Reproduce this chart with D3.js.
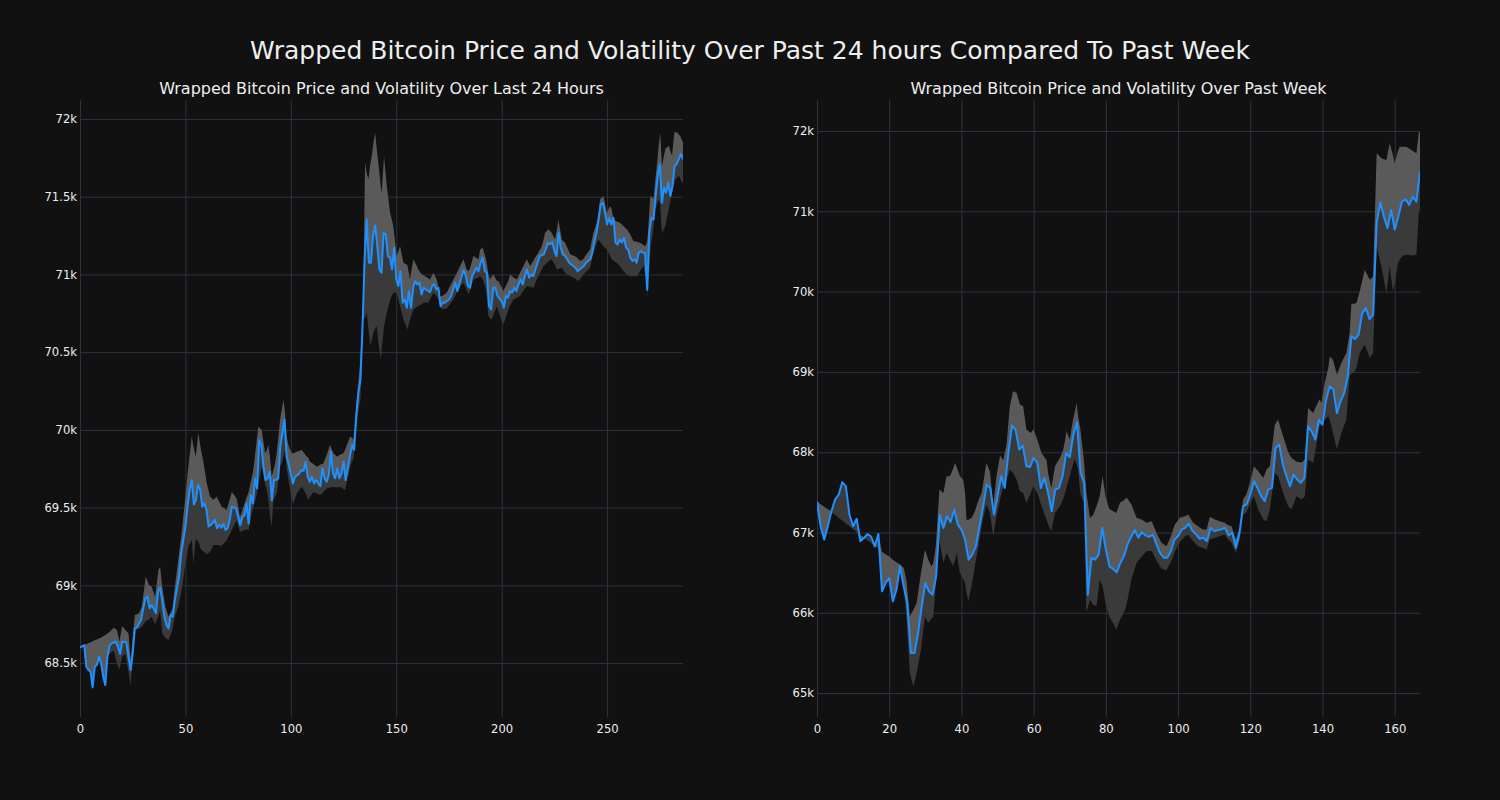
<!DOCTYPE html>
<html><head><meta charset="utf-8">
<script src="https://cdn.jsdelivr.net/npm/d3@7"></script>
<style>html,body{margin:0;padding:0;background:#111111;} svg{display:block;}</style>
</head><body><svg id="chart" width="1500" height="800"></svg>
<script>
const mainTitle = "Wrapped Bitcoin Price and Volatility Over Past 24 hours Compared To Past Week";
const dayTitle = "Wrapped Bitcoin Price and Volatility Over Last 24 Hours";
const weekTitle = "Wrapped Bitcoin Price and Volatility Over Past Week";

// Last 24 hours: [index, price]
const dayPrice = [[0,68600],[1,68608],[2,68615],[3,68476],[4,68455],[5,68444],[6,68343],[7,68476],[8,68487],[9,68540],[10,68498],[11,68412],[12,68358],[13,68540],[14,68610],[15,68627],[17,68637],[18,68605],[19,68558],[20,68637],[22,68633],[23,68540],[24,68455],[25,68560],[26,68723],[27,68730],[28,68755],[29,68777],[30,68852],[31,68916],[32,68927],[33,68852],[34,68873],[35,68850],[36,68820],[37,68960],[38,68987],[39,68900],[40,68800],[41,68745],[42,68723],[43,68809],[44,68798],[45,68905],[47,69056],[48,69206],[50,69378],[51,69506],[52,69614],[53,69678],[54,69520],[55,69549],[56,69646],[57,69614],[58,69506],[59,69528],[60,69485],[61,69378],[62,69388],[64,69421],[65,69367],[66,69390],[67,69370],[68,69395],[69,69356],[70,69367],[71,69420],[72,69506],[73,69500],[74,69494],[76,69386],[77,69440],[78,69450],[79,69526],[80,69397],[81,69580],[82,69526],[83,69688],[84,69623],[85,69935],[86,69903],[87,69763],[88,69677],[89,69688],[90,69731],[91,69547],[92,69677],[93,69677],[94,69688],[95,69892],[97,70065],[98,69828],[99,69774],[101,69655],[102,69698],[103,69709],[104,69720],[105,69741],[106,69736],[107,69795],[108,69698],[109,69666],[110,69698],[111,69655],[112,69677],[113,69655],[114,69638],[115,69752],[116,69688],[117,69666],[118,69709],[119,69860],[120,69720],[121,69688],[122,69752],[123,69688],[124,69720],[125,69795],[126,69677],[127,69752],[128,69828],[129,69903],[130,69871],[131,70086],[132,70237],[133,70324],[134,70667],[135,71097],[136,71354],[137,71075],[138,71075],[139,71247],[140,71315],[141,71182],[142,71032],[143,71011],[144,71268],[145,71257],[146,71118],[147,71108],[148,71032],[149,71172],[150,70968],[151,70925],[152,71021],[153,70818],[154,70839],[155,70785],[156,70893],[157,70785],[158,70914],[159,70957],[160,70936],[161,70946],[162,70871],[163,70914],[164,70903],[166,70886],[167,70925],[168,70936],[169,70903],[170,70914],[171,70796],[172,70818],[173,70818],[175,70839],[176,70861],[177,70903],[178,70946],[179,70893],[181,70989],[182,71028],[183,70989],[184,70925],[185,70914],[186,70989],[188,71043],[189,71021],[190,71075],[191,71107],[192,71021],[193,71011],[194,70796],[195,70775],[196,70914],[197,70914],[198,70861],[200,70828],[201,70786],[202,70861],[203,70850],[204,70893],[205,70883],[206,70914],[207,70893],[208,70936],[209,70968],[210,70936],[211,70989],[212,71032],[213,70978],[214,71000],[215,70989],[216,71032],[217,71075],[218,71118],[220,71129],[221,71165],[222,71204],[223,71193],[224,71208],[225,71150],[226,71118],[227,71268],[228,71172],[229,71129],[230,71120],[231,71097],[232,71075],[233,71064],[234,71054],[235,71043],[236,71021],[237,71032],[239,71054],[240,71075],[242,71097],[243,71140],[244,71215],[245,71268],[246,71354],[247,71450],[248,71461],[249,71397],[250,71322],[251,71365],[252,71322],[253,71365],[254,71204],[255,71193],[256,71225],[257,71204],[258,71236],[259,71172],[260,71160],[261,71107],[262,71086],[263,71097],[264,71075],[265,71140],[266,71150],[267,71140],[268,71138],[269,70901],[270,71267],[271,71364],[272,71353],[273,71504],[274,71634],[275,71709],[276,71461],[277,71558],[278,71526],[279,71590],[280,71504],[281,71569],[282,71698],[283,71709],[284,71741],[285,71774],[286,71740]];

// Last 24 hours volatility band: [index, upper, lower]
const dayBand = [[0,68605,68600],[1,68610,68608],[2,68616,68615],[3,68622,68476],[4,68628,68455],[5,68634,68444],[6,68640,68343],[7,68646,68476],[8,68652,68487],[9,68658,68540],[10,68665,68498],[11,68672,68412],[12,68680,68358],[13,68690,68540],[14,68700,68560],[16,68727,68580],[17.5,68712,68498],[18.7,68637,68459],[20,68738,68540],[21.5,68712,68560],[23,68690,68444],[24,68519,68358],[26,68809,68712],[28,68820,68720],[29.3,68863,68734],[31.2,69056,68770],[32.7,69002,68780],[34,68991,68798],[35.6,68927,68750],[37.2,69099,68800],[38,69120,68840],[39,68991,68691],[40.5,68863,68659],[42,68798,68648],[43.8,68850,68712],[45,68991,68798],[46.6,69163,68862],[48.2,69335,68970],[49.8,69549,69120],[51.4,69764,69249],[53,69957,69292],[53.8,69893,69142],[54.9,69828,69300],[56.1,69979,69280],[57.4,69871,69230],[58.5,69796,69220],[60.1,69657,69200],[61.7,69571,69215],[63.3,69549,69260],[64.8,69571,69260],[67.2,69506,69255],[69.6,69485,69290],[72,69600,69356],[74.3,69558,69418],[75.9,69440,69343],[79.1,69569,69360],[80,69600,69354],[81.4,69690,69461],[82.2,69741,69500],[83.8,69930,69580],[84.6,70022,69650],[86.2,70000,69763],[87.8,69849,69650],[88.6,69870,69612],[89.3,69903,69560],[90.1,69828,69450],[90.9,69698,69375],[91.7,69740,69547],[92.5,69784,69570],[93.3,69850,69590],[94.9,70065,69760],[95.7,70130,69785],[96.5,70194,69830],[97.3,70100,69871],[98,69957,69750],[98.9,69900,69677],[100.4,69849,69560],[101.2,69850,69526],[102.8,69860,69590],[105.2,69871,69634],[107.5,69828,69580],[108.3,69820,69547],[109.1,69795,69570],[110.7,69780,69601],[112.3,69763,69590],[113.9,69775,69580],[115.4,69784,69600],[117,69840,69623],[118.6,69903,69630],[120.2,69850,69634],[121.8,69828,69630],[123.4,69840,69634],[124.9,69849,69620],[125.7,69870,69612],[128.1,69957,69760],[128.9,69950,69795],[129.7,69935,69810],[131,70150,70000],[132,70300,70120],[133,70450,70200],[134.4,70900,70710],[135.2,71719,70720],[136,71650,70753],[136.8,71612,70650],[137.6,71700,70539],[138.4,71762,70580],[139.2,71850,70624],[140,71912,70650],[140.8,71800,70667],[141.5,71719,70560],[142.7,71560,70453],[143.1,71526,70520],[144.2,71762,70667],[145.5,71569,70753],[147.1,71397,70839],[148.6,71311,70882],[150.2,71118,70882],[151.8,71182,70796],[153.4,71075,70710],[155.3,71060,70646],[156.5,70968,70710],[158.1,71097,70775],[159.7,71054,70790],[160.5,71030,70796],[162.1,71000,70810],[162.9,70995,70818],[165.2,70975,70820],[166,70968,70840],[167.6,71011,70882],[169.2,70968,70860],[170,70920,70839],[170.8,70860,70800],[171.6,70860,70775],[173.9,70882,70780],[177.1,70968,70839],[179.5,71030,70903],[180.3,71054,70920],[181.9,71097,70946],[183.4,71032,70900],[184.3,71020,70871],[185,71040,70900],[186.6,71118,70968],[189,71097,70980],[189.8,71161,70989],[191,71172,70970],[192.1,71120,70925],[192.9,71075,70860],[193.7,71000,70732],[194.5,70968,70720],[195.3,70990,70710],[196.1,71000,70740],[197.7,70960,70796],[198.5,70957,70760],[200.8,70893,70678],[203.2,70960,70775],[204,71000,70800],[205.6,70980,70839],[207.2,70968,70850],[208.7,71010,70861],[209.5,71032,70880],[211.9,71097,70925],[213.5,71054,70920],[215.1,71090,70914],[215.8,71107,70940],[217.4,71139,70989],[219,71182,71030],[219.8,71220,71054],[220.6,71268,71060],[221.4,71280,71075],[222.2,71290,71085],[223.7,71268,71097],[225.3,71225,71060],[226.1,71280,71032],[226.9,71354,71035],[228.5,71225,71043],[230.1,71204,71010],[230.9,71180,71000],[232.5,71129,70990],[234.1,71120,70979],[234.7,71118,70975],[236.4,71100,70957],[237.2,71086,70970],[238.8,71100,71000],[239.6,71118,71010],[241.9,71161,71043],[243.5,71268,71139],[245.1,71332,71200],[245.9,71400,71225],[246.7,71483,71210],[248.3,71504,71182],[249.9,71397,71161],[251.4,71440,71120],[252.2,71420,71097],[253,71354,71090],[254.6,71340,71075],[256.2,71332,71050],[257.8,71310,71021],[259.3,71290,71000],[260.9,71260,70989],[262.5,71214,70989],[264.1,71210,70989],[265.6,71204,71020],[267.3,71190,71054],[268,71182,71000],[268.8,71200,70950],[269.3,71250,70858],[270.4,71483,71116],[270.7,71504,71180],[271.2,71500,71224],[272,71483,71300],[272.8,71600,71418],[273.9,71741,71460],[274.4,71820,71483],[275.2,71914,71450],[276,71698,71267],[277.6,71806,71310],[279.2,71828,71418],[280.8,71763,71526],[281.9,71914,71580],[282.4,71914,71612],[283.1,71914,71620],[284,71900,71634],[284.6,71892,71620],[285.6,71860,71590],[286,71849,71590]];

// Past week: hourly price, index = hour 0..167
const weekPrice = [67388,67077,66911,67077,67264,67409,67471,67625,67575,67220,
67077,67172,66890,66931,66981,66950,66827,66981,66267,66370,
66433,66142,66287,66578,66329,66121,65498,65498,65747,66080,
66370,66267,66225,66454,67222,67056,67201,67131,67284,67097,
67035,66911,66661,66724,66827,67077,67326,67596,67554,67222,
67451,67700,67554,67991,68331,68281,68032,68082,67824,67816,
67928,67866,67554,67679,67492,67264,67534,67554,67700,67991,
67937,68219,68373,67741,67617,66225,66682,66661,66724,67056,
66786,66578,66545,66503,66620,66706,66851,66946,67029,66934,
67004,66963,66946,66975,66851,66747,66685,66685,66768,66913,
66954,67037,67058,67112,67017,66975,66921,66934,66892,67058,
67017,67029,67040,67058,66963,66996,66810,66996,67328,67348,
67473,67638,67555,67452,67390,67535,67555,68053,68094,67846,
67701,67576,67721,67659,67618,67680,68323,68260,68157,68405,
68343,68654,68820,68779,68488,68634,68737,68944,69442,69409,
69463,69732,69794,69658,69711,70852,71109,70934,70789,71017,
70769,70934,71121,71150,71080,71183,71121,71494];

// Past week volatility band: [hour, upper, lower]
const weekBand = [[0,67388,67388],[1,67350,67077],[2,67320,66911],[3,67290,67077],[4,67264,67250],[5,67409,67220],[6,67471,67180],[7,67625,67150],[8,67575,67110],[9,67220,67080],[10,67077,67040],[11,67172,67010],[12,66970,66890],[13,66940,66931],[14,66981,66900],[15,66950,66870],[16,66830,66827],[17,66981,66800],[18,66760,66267],[19,66730,66370],[20,66700,66433],[21,66660,66142],[22,66630,66287],[23,66600,66578],[24,66558,66329],[24.8,66400,65914],[25.7,65955,65249],[26.7,66038,65083],[27.6,66121,65249],[28.8,66500,65540],[29.9,66786,65955],[30.8,66661,65872],[31.7,66578,65930],[32.2,66620,65955],[32.9,66827,66329],[33.9,67534,66900],[35,67492,66620],[35.9,67700,66744],[36.8,67700,66661],[37.3,67750,66620],[37.7,67800,66578],[38.2,67866,66650],[38.7,67820,66744],[39.1,67762,66620],[39.6,67700,66495],[40.5,67658,66420],[41,67500,66370],[41.4,67160,66250],[41.9,67160,66142],[42.8,67180,66329],[43.7,67260,66578],[44.7,67400,66827],[45.6,67492,67077],[46.9,67866,67347],[47.9,67760,67243],[48.8,67326,66952],[49.7,67700,67201],[50.7,67960,67409],[51.6,67900,67575],[52.5,68100,67658],[53.4,68572,67783],[54.3,68760,67741],[55.3,68738,67658],[56.2,68593,67513],[57.1,68572,67492],[58,68281,67367],[59.2,68240,67492],[59.9,68281,67575],[61,68157,67492],[62.2,67991,67326],[63.6,67900,67160],[64,67741,67100],[64.9,67554,67014],[65.9,67824,67243],[67.3,67930,67326],[68.2,68032,67420],[68.7,68150,67492],[69.1,68260,67560],[70,68157,67700],[70.9,68406,67850],[71.4,68500,67908],[71.9,68614,67850],[72.3,68450,67783],[72.9,68300,67492],[73.9,67908,67367],[74.6,67500,65997],[75.6,67181,66163],[76.5,67222,66100],[77.4,67326,66080],[78.3,67451,66412],[79.1,67700,66329],[79.9,67450,66121],[80.9,67300,65955],[82,67264,65872],[82.9,67243,65789],[83.9,67369,65914],[85,67400,66000],[85.7,67431,66100],[86,67420,66160],[87.1,67348,66420],[88.5,67182,66620],[89.9,67161,66700],[91.3,67120,66770],[92.7,67141,66770],[94,66996,66650],[95.4,66871,66550],[96.8,66830,66530],[98.2,66975,66650],[99.1,67099,66760],[100.5,67182,66880],[101.9,67203,66950],[102.8,67224,66975],[104.2,67120,66892],[105.5,67079,66830],[106.9,67037,66809],[107.9,67037,66789],[108.8,67195,66913],[110.2,67162,66934],[111.5,67141,66954],[112.9,67120,66975],[113.9,67090,66913],[114.8,67079,66871],[116,66913,66747],[117.1,67058,66913],[118,67410,67224],[118.9,67473,67250],[119.9,67617,67350],[121,67825,67452],[122.2,67763,67286],[123.6,67680,67162],[124.5,67783,67141],[125.4,67825,67286],[126.8,68343,67742],[127.7,68405,67701],[129.1,68198,67493],[130.5,68000,67327],[131.4,67930,67286],[132.8,67880,67452],[134.2,67870,67410],[135.1,67908,67452],[136,68550,67908],[137.4,68488,67866],[138.1,68560,68032],[139.2,68660,68322],[139.7,68613,68350],[140.6,68862,68405],[141.6,69050,68447],[142,69193,68400],[142.9,69152,68240],[144,68965,68032],[145.2,69110,68240],[146.6,69235,68405],[147.5,69483,68944],[148,69848,68980],[148.9,69850,69006],[149.4,69857,69050],[150.3,70002,69235],[151.7,70271,69338],[153.1,70147,69172],[154,70188,69235],[155,71722,70561],[156.3,71660,70313],[157.7,71639,69981],[158.6,71847,70313],[159.5,71700,70002],[160,71598,70100],[160.9,71750,70354],[161.4,71805,70400],[162.3,71805,70450],[163.2,71805,70460],[164.6,71764,70450],[166,71722,70460],[166.7,71992,71017],[167,71992,71017]];

const dayXTicks = [0, 50, 100, 150, 200, 250];
const dayYTicks = [68500, 69000, 69500, 70000, 70500, 71000, 71500, 72000];
const dayYLabels = ["68.5k", "69k", "69.5k", "70k", "70.5k", "71k", "71.5k", "72k"];
const weekXTicks = [0, 20, 40, 60, 80, 100, 120, 140, 160];
const weekYTicks = [65000, 66000, 67000, 68000, 69000, 70000, 71000, 72000];
const weekYLabels = ["65k", "66k", "67k", "68k", "69k", "70k", "71k", "72k"];

const FONT = "DejaVu Sans, sans-serif";
const TEXT = "#eeeeee";
const GRID = "#2a3441";
const svg = d3.select("#chart");
svg.append("rect").attr("width", 1500).attr("height", 800).attr("fill", "#111111");
const defs = svg.append("defs");

svg.append("text").attr("x", 750).attr("y", 59).attr("text-anchor", "middle")
  .attr("fill", TEXT).style("font-family", FONT).style("font-size", "25px").text(mainTitle);

function panel(id, left, right, xDomain, yDomain, price, band, xTicks, yTicks, yLabels, title) {
  const top = 100, bottom = 717;
  const x = d3.scaleLinear().domain(xDomain).range([left, right]);
  const y = d3.scaleLinear().domain(yDomain).range([bottom, top]);
  const g = svg.append("g");

  defs.append("clipPath").attr("id", id + "-plot").append("rect")
    .attr("x", left).attr("y", top).attr("width", right - left).attr("height", bottom - top);
  const above = d3.area().x(d => x(d[0])).y0(top - 50).y1(d => y(d[1]));
  const below = d3.area().x(d => x(d[0])).y0(d => y(d[1])).y1(bottom + 50);
  defs.append("clipPath").attr("id", id + "-above").append("path").attr("d", above(price));
  defs.append("clipPath").attr("id", id + "-below").append("path").attr("d", below(price));

  // grid
  const gx = g.append("g").attr("transform", `translate(0,${bottom})`)
    .call(d3.axisBottom(x).tickValues(xTicks).tickSize(-(bottom - top)).tickFormat(""));
  const gy = g.append("g").attr("transform", `translate(${left},0)`)
    .call(d3.axisLeft(y).tickValues(yTicks).tickSize(-(right - left)).tickFormat(""));
  [gx, gy].forEach(a => { a.select(".domain").remove(); a.selectAll("line").attr("stroke", GRID).attr("stroke-width", 1); });

  const plot = g.append("g").attr("clip-path", `url(#${id}-plot)`);
  const bandArea = d3.area().x(d => x(d[0])).y0(d => y(d[2])).y1(d => y(d[1]));
  plot.append("g").attr("clip-path", `url(#${id}-below)`)
    .append("path").attr("d", bandArea(band)).attr("fill", "#3a3a3a");
  plot.append("g").attr("clip-path", `url(#${id}-above)`)
    .append("path").attr("d", bandArea(band)).attr("fill", "#5a5a5a");
  plot.append("path").attr("d", d3.line().x(d => x(d[0])).y(d => y(d[1]))(price))
    .attr("fill", "none").attr("stroke", "#1e90ff").attr("stroke-width", 2).attr("stroke-linejoin", "round");

  // tick labels
  const ax = g.append("g").attr("transform", `translate(0,${bottom})`)
    .call(d3.axisBottom(x).tickValues(xTicks).tickSize(0).tickPadding(8));
  const ay = g.append("g").attr("transform", `translate(${left},0)`)
    .call(d3.axisLeft(y).tickValues(yTicks).tickSize(0).tickPadding(3).tickFormat((d, i) => yLabels[i]));
  [ax, ay].forEach(a => {
    a.select(".domain").remove();
    a.selectAll("text").attr("fill", TEXT).style("font-family", FONT).style("font-size", "11.6px");
  });

  g.append("text").attr("x", (left + right) / 2).attr("y", 94).attr("text-anchor", "middle")
    .attr("fill", TEXT).style("font-family", FONT).style("font-size", "16px").text(title);
}

panel("day", 80, 683, [0, 286], [68153, 72122], dayPrice, dayBand, dayXTicks, dayYTicks, dayYLabels, dayTitle);
panel("week", 817, 1420, [0, 167], [64702, 72386], weekPrice.map((v, i) => [i, v]), weekBand, weekXTicks, weekYTicks, weekYLabels, weekTitle);
</script></body></html>
